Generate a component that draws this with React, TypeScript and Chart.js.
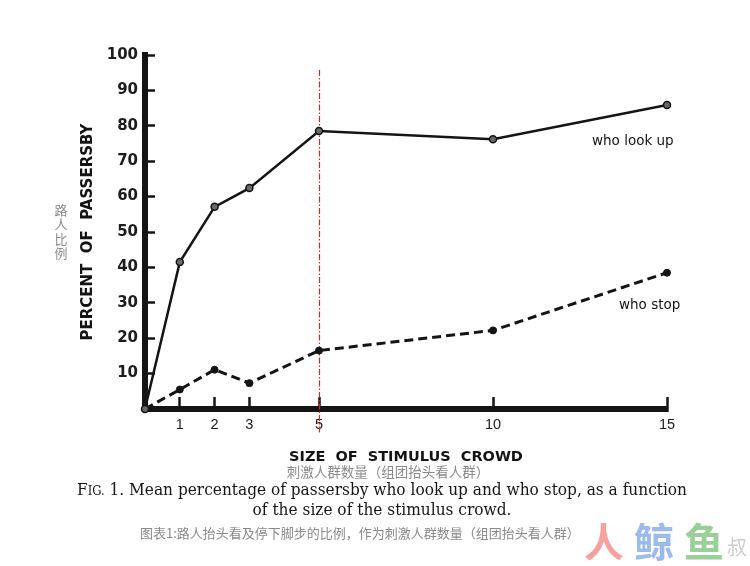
import React, { useEffect, useRef } from 'react';
import { Chart, registerables } from 'chart.js';

Chart.register(...registerables);

const crowdSizes = [0, 1, 2, 3, 5, 10, 15];
const lookUpPct = [0, 41.5, 57.1, 62.4, 78.5, 76.2, 85.9];
const stopPct = [0, 5.5, 11.1, 7.3, 16.5, 22.2, 38.5];
const xTickValues = [1, 2, 3, 5, 10, 15];
const yTickValues = [10, 20, 30, 40, 50, 60, 70, 80, 90, 100];
const seriesLabels = ['who look up', 'who stop'];
const markerValue = 5;
const xTitle = 'SIZE  OF  STIMULUS  CROWD';
const yTitle = 'PERCENT  OF  PASSERSBY';
const xTitleZh = '刺激人群数量（组团抬头看人群）';
const yTitleZh = ['路', '人', '比', '例'];
const captionEnLead = 'F';
const captionEnSmall = 'IG.';
const captionEn1 = ' 1. Mean percentage of passersby who look up and who stop, as a function';
const captionEn2 = 'of the size of the stimulus crowd.';
const captionZh = '图表1:路人抬头看及停下脚步的比例，作为刺激人群数量（组团抬头看人群）';
const watermark = ['人', '鲸', '鱼', '叔'];

const textPlugin = {
  id: 'paperText',
  beforeDatasetsDraw(chart: any) {
    const { ctx, scales } = chart;
    const px = Math.round(scales.x.getPixelForValue(markerValue)) + 0.5;
    ctx.save();
    ctx.strokeStyle = '#d42a1e';
    ctx.lineWidth = 1.2;
    ctx.setLineDash([6, 2, 1.5, 2]);
    ctx.beginPath();
    ctx.moveTo(px, 70);
    ctx.lineTo(px, 434);
    ctx.stroke();
    ctx.restore();
  },
  afterDraw(chart: any) {
    const { ctx } = chart;
    ctx.save();
    // series labels
    ctx.fillStyle = '#141414';
    ctx.font = '13.5px "DejaVu Sans"';
    ctx.textAlign = 'left';
    ctx.textBaseline = 'middle';
    ctx.fillText(seriesLabels[0], 592, 141);
    ctx.fillText(seriesLabels[1], 619, 305);

    // Chinese y title
    ctx.fillStyle = '#8a8a8a';
    ctx.font = '13px "Noto Sans CJK SC"';
    ctx.textAlign = 'center';
    yTitleZh.forEach((c, i) => ctx.fillText(c, 61, 210 + i * 14.5));

    // Chinese x title
    ctx.font = '13.5px "Noto Sans CJK SC"';
    ctx.fillText(xTitleZh, 388, 472);

    // English caption
    ctx.fillStyle = '#161616';
    const big = '16px "DejaVu Serif"';
    const small = '12px "DejaVu Serif"';
    ctx.font = big;
    const wLead = ctx.measureText(captionEnLead).width;
    const wRest = ctx.measureText(captionEn1).width;
    const w2 = ctx.measureText(captionEn2).width;
    ctx.font = small;
    const wSmall = ctx.measureText(captionEnSmall).width;
    const total = wLead + wSmall + wRest;
    const sx = 610 / total;
    const cx = 382;
    ctx.textAlign = 'left';
    ctx.textBaseline = 'alphabetic';
    ctx.save();
    ctx.translate(cx - 305, 0);
    ctx.scale(sx, 1);
    ctx.font = big;
    ctx.fillText(captionEnLead, 0, 495);
    ctx.font = small;
    ctx.fillText(captionEnSmall, wLead, 495);
    ctx.font = big;
    ctx.fillText(captionEn1, wLead + wSmall, 495);
    ctx.restore();
    ctx.save();
    ctx.translate(cx - (w2 * sx) / 2, 0);
    ctx.scale(sx, 1);
    ctx.font = big;
    ctx.fillText(captionEn2, 0, 515);
    ctx.restore();

    // Chinese caption
    ctx.fillStyle = '#8a8a8a';
    ctx.font = '13px "Noto Sans CJK SC"';
    ctx.textBaseline = 'middle';
    ctx.fillText(captionZh, 140, 533);

    // watermark
    ctx.textAlign = 'center';
    ctx.globalAlpha = 0.6;
    ctx.font = 'bold 40px "Noto Sans CJK SC"';
    ctx.fillStyle = '#f06060';
    ctx.fillText(watermark[0], 604, 542);
    ctx.fillStyle = '#5a8de0';
    ctx.fillText(watermark[1], 654, 542);
    ctx.fillStyle = '#55b055';
    ctx.fillText(watermark[2], 704, 542);
    ctx.globalAlpha = 0.5;
    ctx.fillStyle = '#999';
    ctx.font = '20px "Noto Sans CJK SC"';
    ctx.fillText(watermark[3], 737, 547);
    ctx.restore();
  },
};

export default function App() {
  const canvasRef = useRef<HTMLCanvasElement | null>(null);

  useEffect(() => {
    if (!canvasRef.current) return;
    const lookUpData = crowdSizes.map((x, i) => ({ x, y: lookUpPct[i] }));
    const stopData = crowdSizes.map((x, i) => ({ x, y: stopPct[i] }));
    const chart = new Chart(canvasRef.current, {
      type: 'line',
      data: {
        datasets: [
          {
            label: seriesLabels[0],
            data: lookUpData,
            borderColor: '#141414',
            borderWidth: 2.5,
            pointRadius: 3.5,
            pointBackgroundColor: '#6a6a6a',
            pointBorderColor: '#141414',
            pointBorderWidth: 1.5,
            tension: 0,
            clip: false,
          },
          {
            label: seriesLabels[1],
            data: stopData,
            borderColor: '#141414',
            borderWidth: 3,
            borderDash: [9, 5],
            pointRadius: 3.5,
            pointBackgroundColor: '#141414',
            pointBorderColor: '#141414',
            pointBorderWidth: 1,
            tension: 0,
            clip: false,
          },
        ],
      },
      options: {
        animation: false,
        responsive: false,
        devicePixelRatio: 1,
        layout: { padding: { left: 0, right: 83, top: 55, bottom: 0 } },
        plugins: { legend: { display: false }, tooltip: { enabled: false } },
        scales: {
          x: {
            type: 'linear',
            min: 0,
            max: 15,
            afterBuildTicks: (s: any) => {
              s.ticks = xTickValues.map((v) => ({ value: v }));
            },
            afterFit: (s: any) => {
              s.height = 157;
            },
            grid: {
              drawOnChartArea: false,
              drawTicks: true,
              tickLength: -12,
              tickWidth: 2.5,
              tickColor: '#141414',
              color: '#141414',
            },
            border: { display: true, color: '#141414', width: 6 },
            ticks: {
              padding: 19,
              color: '#1c1c1c',
              autoSkip: false,
              maxRotation: 0,
              font: { family: 'Liberation Sans', size: 14.5 },
            },
            title: {
              display: true,
              text: xTitle,
              color: '#141414',
              font: { family: 'DejaVu Sans', size: 14.5, weight: 'bold' },
              padding: { top: 0, bottom: 100 },
            },
          },
          y: {
            type: 'linear',
            min: 0,
            max: 100,
            afterBuildTicks: (s: any) => {
              s.ticks = yTickValues.map((v) => ({ value: v }));
            },
            afterFit: (s: any) => {
              s.width = 145;
            },
            grid: {
              drawOnChartArea: false,
              drawTicks: true,
              tickLength: -10,
              tickWidth: 2.5,
              tickColor: '#141414',
              color: '#141414',
            },
            border: { display: true, color: '#141414', width: 6 },
            ticks: {
              padding: 17,
              color: '#1c1c1c',
              font: { family: 'DejaVu Sans', size: 15, weight: 'bold' },
            },
            title: {
              display: true,
              text: yTitle,
              color: '#141414',
              font: { family: 'DejaVu Sans', size: 15, weight: 'bold' },
              padding: { top: 79, bottom: 0 },
            },
          },
        },
      },
      plugins: [textPlugin],
    } as any);
    return () => chart.destroy();
  }, []);

  return (
    <div style={{ position: 'absolute', left: 0, top: 0, width: 750, height: 566, background: '#fff' }}>
      <canvas ref={canvasRef} width={750} height={566} style={{ display: 'block' }} />
    </div>
  );
}
